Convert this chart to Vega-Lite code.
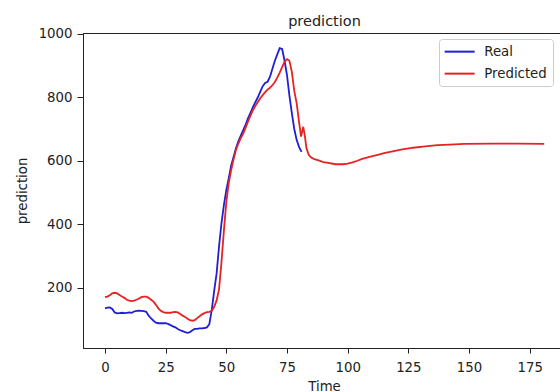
{
  "$schema": "https://vega.github.io/schema/vega-lite/v6.json",
  "width": 477,
  "height": 315,
  "autosize": {"type": "none"},
  "padding": {"left": 83, "top": 33, "right": 0, "bottom": 44},
  "background": "white",
  "title": {"text": "prediction", "fontSize": 14.5, "fontWeight": "normal", "font": "DejaVu Sans", "color": "#222", "anchor": "middle", "baseline": "alphabetic", "offset": 8, "dx": 3, "dy": 22},
  "data": {"values": [
    {"t": 0, "v": 135, "series": "Real"},
    {"t": 1, "v": 137, "series": "Real"},
    {"t": 2, "v": 138, "series": "Real"},
    {"t": 3, "v": 133, "series": "Real"},
    {"t": 4, "v": 122, "series": "Real"},
    {"t": 5, "v": 119, "series": "Real"},
    {"t": 6, "v": 120, "series": "Real"},
    {"t": 7, "v": 121, "series": "Real"},
    {"t": 8, "v": 120, "series": "Real"},
    {"t": 9, "v": 121, "series": "Real"},
    {"t": 10, "v": 122, "series": "Real"},
    {"t": 11, "v": 121, "series": "Real"},
    {"t": 12, "v": 125, "series": "Real"},
    {"t": 13, "v": 127, "series": "Real"},
    {"t": 14, "v": 128, "series": "Real"},
    {"t": 15, "v": 127, "series": "Real"},
    {"t": 16, "v": 126, "series": "Real"},
    {"t": 17, "v": 124, "series": "Real"},
    {"t": 18, "v": 112, "series": "Real"},
    {"t": 19, "v": 103, "series": "Real"},
    {"t": 20, "v": 96, "series": "Real"},
    {"t": 21, "v": 90, "series": "Real"},
    {"t": 22, "v": 88, "series": "Real"},
    {"t": 23, "v": 88, "series": "Real"},
    {"t": 24, "v": 88, "series": "Real"},
    {"t": 25, "v": 88, "series": "Real"},
    {"t": 26, "v": 86, "series": "Real"},
    {"t": 27, "v": 82, "series": "Real"},
    {"t": 28, "v": 78, "series": "Real"},
    {"t": 29, "v": 75, "series": "Real"},
    {"t": 30, "v": 70, "series": "Real"},
    {"t": 31, "v": 66, "series": "Real"},
    {"t": 32, "v": 63, "series": "Real"},
    {"t": 33, "v": 60, "series": "Real"},
    {"t": 34, "v": 58, "series": "Real"},
    {"t": 35, "v": 60, "series": "Real"},
    {"t": 36, "v": 66, "series": "Real"},
    {"t": 37, "v": 70, "series": "Real"},
    {"t": 38, "v": 70, "series": "Real"},
    {"t": 39, "v": 72, "series": "Real"},
    {"t": 40, "v": 72, "series": "Real"},
    {"t": 41, "v": 73, "series": "Real"},
    {"t": 42, "v": 75, "series": "Real"},
    {"t": 43, "v": 85, "series": "Real"},
    {"t": 44, "v": 130, "series": "Real"},
    {"t": 45, "v": 190, "series": "Real"},
    {"t": 46, "v": 245, "series": "Real"},
    {"t": 47, "v": 330, "series": "Real"},
    {"t": 48, "v": 403, "series": "Real"},
    {"t": 49, "v": 460, "series": "Real"},
    {"t": 50, "v": 508, "series": "Real"},
    {"t": 51, "v": 545, "series": "Real"},
    {"t": 52, "v": 585, "series": "Real"},
    {"t": 53, "v": 613, "series": "Real"},
    {"t": 54, "v": 640, "series": "Real"},
    {"t": 55, "v": 662, "series": "Real"},
    {"t": 56, "v": 680, "series": "Real"},
    {"t": 57, "v": 697, "series": "Real"},
    {"t": 58, "v": 715, "series": "Real"},
    {"t": 59, "v": 735, "series": "Real"},
    {"t": 60, "v": 752, "series": "Real"},
    {"t": 61, "v": 770, "series": "Real"},
    {"t": 62, "v": 785, "series": "Real"},
    {"t": 63, "v": 800, "series": "Real"},
    {"t": 64, "v": 818, "series": "Real"},
    {"t": 65, "v": 835, "series": "Real"},
    {"t": 66, "v": 845, "series": "Real"},
    {"t": 67, "v": 849, "series": "Real"},
    {"t": 68, "v": 865, "series": "Real"},
    {"t": 69, "v": 890, "series": "Real"},
    {"t": 70, "v": 915, "series": "Real"},
    {"t": 71, "v": 935, "series": "Real"},
    {"t": 72, "v": 955, "series": "Real"},
    {"t": 73, "v": 952, "series": "Real"},
    {"t": 74, "v": 915, "series": "Real"},
    {"t": 75, "v": 870, "series": "Real"},
    {"t": 76, "v": 805, "series": "Real"},
    {"t": 77, "v": 750, "series": "Real"},
    {"t": 78, "v": 700, "series": "Real"},
    {"t": 79, "v": 665, "series": "Real"},
    {"t": 80, "v": 643, "series": "Real"},
    {"t": 81, "v": 628, "series": "Real"},
    {"t": 0, "v": 170, "series": "Predicted"},
    {"t": 1, "v": 172, "series": "Predicted"},
    {"t": 2, "v": 176, "series": "Predicted"},
    {"t": 3, "v": 182, "series": "Predicted"},
    {"t": 4, "v": 184, "series": "Predicted"},
    {"t": 5, "v": 182, "series": "Predicted"},
    {"t": 6, "v": 177, "series": "Predicted"},
    {"t": 7, "v": 172, "series": "Predicted"},
    {"t": 8, "v": 168, "series": "Predicted"},
    {"t": 9, "v": 162, "series": "Predicted"},
    {"t": 10, "v": 159, "series": "Predicted"},
    {"t": 11, "v": 158, "series": "Predicted"},
    {"t": 12, "v": 159, "series": "Predicted"},
    {"t": 13, "v": 162, "series": "Predicted"},
    {"t": 14, "v": 166, "series": "Predicted"},
    {"t": 15, "v": 170, "series": "Predicted"},
    {"t": 16, "v": 172, "series": "Predicted"},
    {"t": 17, "v": 172, "series": "Predicted"},
    {"t": 18, "v": 168, "series": "Predicted"},
    {"t": 19, "v": 162, "series": "Predicted"},
    {"t": 20, "v": 156, "series": "Predicted"},
    {"t": 21, "v": 146, "series": "Predicted"},
    {"t": 22, "v": 135, "series": "Predicted"},
    {"t": 23, "v": 127, "series": "Predicted"},
    {"t": 24, "v": 123, "series": "Predicted"},
    {"t": 25, "v": 121, "series": "Predicted"},
    {"t": 26, "v": 121, "series": "Predicted"},
    {"t": 27, "v": 121, "series": "Predicted"},
    {"t": 28, "v": 123, "series": "Predicted"},
    {"t": 29, "v": 124, "series": "Predicted"},
    {"t": 30, "v": 122, "series": "Predicted"},
    {"t": 31, "v": 117, "series": "Predicted"},
    {"t": 32, "v": 112, "series": "Predicted"},
    {"t": 33, "v": 108, "series": "Predicted"},
    {"t": 34, "v": 102, "series": "Predicted"},
    {"t": 35, "v": 98, "series": "Predicted"},
    {"t": 36, "v": 96, "series": "Predicted"},
    {"t": 37, "v": 98, "series": "Predicted"},
    {"t": 38, "v": 104, "series": "Predicted"},
    {"t": 39, "v": 110, "series": "Predicted"},
    {"t": 40, "v": 116, "series": "Predicted"},
    {"t": 41, "v": 120, "series": "Predicted"},
    {"t": 42, "v": 123, "series": "Predicted"},
    {"t": 43, "v": 124, "series": "Predicted"},
    {"t": 44, "v": 127, "series": "Predicted"},
    {"t": 45, "v": 140, "series": "Predicted"},
    {"t": 46, "v": 160, "series": "Predicted"},
    {"t": 47, "v": 195, "series": "Predicted"},
    {"t": 48, "v": 280, "series": "Predicted"},
    {"t": 49, "v": 380, "series": "Predicted"},
    {"t": 50, "v": 470, "series": "Predicted"},
    {"t": 51, "v": 530, "series": "Predicted"},
    {"t": 52, "v": 571, "series": "Predicted"},
    {"t": 53, "v": 605, "series": "Predicted"},
    {"t": 54, "v": 635, "series": "Predicted"},
    {"t": 55, "v": 655, "series": "Predicted"},
    {"t": 56, "v": 672, "series": "Predicted"},
    {"t": 57, "v": 686, "series": "Predicted"},
    {"t": 58, "v": 705, "series": "Predicted"},
    {"t": 59, "v": 725, "series": "Predicted"},
    {"t": 60, "v": 743, "series": "Predicted"},
    {"t": 61, "v": 760, "series": "Predicted"},
    {"t": 62, "v": 773, "series": "Predicted"},
    {"t": 63, "v": 785, "series": "Predicted"},
    {"t": 64, "v": 797, "series": "Predicted"},
    {"t": 65, "v": 807, "series": "Predicted"},
    {"t": 66, "v": 816, "series": "Predicted"},
    {"t": 67, "v": 824, "series": "Predicted"},
    {"t": 68, "v": 830, "series": "Predicted"},
    {"t": 69, "v": 838, "series": "Predicted"},
    {"t": 70, "v": 848, "series": "Predicted"},
    {"t": 71, "v": 862, "series": "Predicted"},
    {"t": 72, "v": 878, "series": "Predicted"},
    {"t": 73, "v": 895, "series": "Predicted"},
    {"t": 74, "v": 912, "series": "Predicted"},
    {"t": 75, "v": 920, "series": "Predicted"},
    {"t": 76, "v": 915, "series": "Predicted"},
    {"t": 77, "v": 880, "series": "Predicted"},
    {"t": 78, "v": 820, "series": "Predicted"},
    {"t": 79, "v": 781, "series": "Predicted"},
    {"t": 80, "v": 720, "series": "Predicted"},
    {"t": 80.8, "v": 676, "series": "Predicted"},
    {"t": 81.7, "v": 707, "series": "Predicted"},
    {"t": 82.4, "v": 676, "series": "Predicted"},
    {"t": 83, "v": 640, "series": "Predicted"},
    {"t": 84, "v": 618, "series": "Predicted"},
    {"t": 85, "v": 610, "series": "Predicted"},
    {"t": 86, "v": 606, "series": "Predicted"},
    {"t": 88, "v": 601, "series": "Predicted"},
    {"t": 90, "v": 596, "series": "Predicted"},
    {"t": 92, "v": 593, "series": "Predicted"},
    {"t": 95, "v": 589, "series": "Predicted"},
    {"t": 98, "v": 589, "series": "Predicted"},
    {"t": 100, "v": 591, "series": "Predicted"},
    {"t": 102, "v": 595, "series": "Predicted"},
    {"t": 104, "v": 600, "series": "Predicted"},
    {"t": 106, "v": 606, "series": "Predicted"},
    {"t": 109, "v": 612, "series": "Predicted"},
    {"t": 112, "v": 618, "series": "Predicted"},
    {"t": 115, "v": 624, "series": "Predicted"},
    {"t": 118, "v": 629, "series": "Predicted"},
    {"t": 122, "v": 635, "series": "Predicted"},
    {"t": 127, "v": 641, "series": "Predicted"},
    {"t": 132, "v": 645, "series": "Predicted"},
    {"t": 137, "v": 649, "series": "Predicted"},
    {"t": 142, "v": 651, "series": "Predicted"},
    {"t": 148, "v": 653, "series": "Predicted"},
    {"t": 160, "v": 654, "series": "Predicted"},
    {"t": 170, "v": 654, "series": "Predicted"},
    {"t": 181, "v": 653, "series": "Predicted"}
  ]},
  "mark": {"type": "line", "strokeWidth": 1.8, "clip": true},
  "encoding": {
    "x": {
      "field": "t", "type": "quantitative",
      "scale": {"domain": [-9.06, 187.5], "nice": false, "zero": false},
      "axis": {"title": "Time", "values": [0, 25, 50, 75, 100, 125, 150, 175], "format": "d", "grid": false, "tickSize": 5, "labelPadding": 7, "titleX": 241, "titleY": 42, "titleBaseline": "alphabetic", "titleAlign": "center"}
    },
    "y": {
      "field": "v", "type": "quantitative",
      "scale": {"domain": [10, 1002.5], "nice": false, "zero": false},
      "axis": {"title": "prediction", "values": [200, 400, 600, 800, 1000], "format": "d", "grid": false, "tickSize": 6, "labelPadding": 5, "titleX": -57, "titleY": 157.5, "titleBaseline": "alphabetic", "titleAlign": "center", "titleAngle": -90}
    },
    "color": {
      "field": "series", "type": "nominal",
      "scale": {"domain": ["Real", "Predicted"], "range": ["#1f1fd6", "#e62222"]},
      "legend": {"title": null, "orient": "none", "legendX": 356, "legendY": 6, "symbolType": "M-3,0H3", "symbolSize": 100, "symbolStrokeWidth": 2, "symbolOffset": 8, "labelFontSize": 13.3, "labelFont": "DejaVu Sans", "labelColor": "#222", "labelOffset": 18, "padding": 6, "rowPadding": 8, "strokeColor": "#cccccc", "fillColor": "white", "cornerRadius": 3}
    }
  },
  "config": {
    "font": "DejaVu Sans",
    "view": {"stroke": "#222", "strokeWidth": 1},
    "axis": {"domainColor": "#222", "tickColor": "#222", "labelColor": "#222", "titleColor": "#222", "labelFontSize": 13.3, "titleFontSize": 13.3, "titleFontWeight": "normal", "labelFont": "DejaVu Sans", "titleFont": "DejaVu Sans", "labelFlush": false, "labelOverlap": false}
  }
}
